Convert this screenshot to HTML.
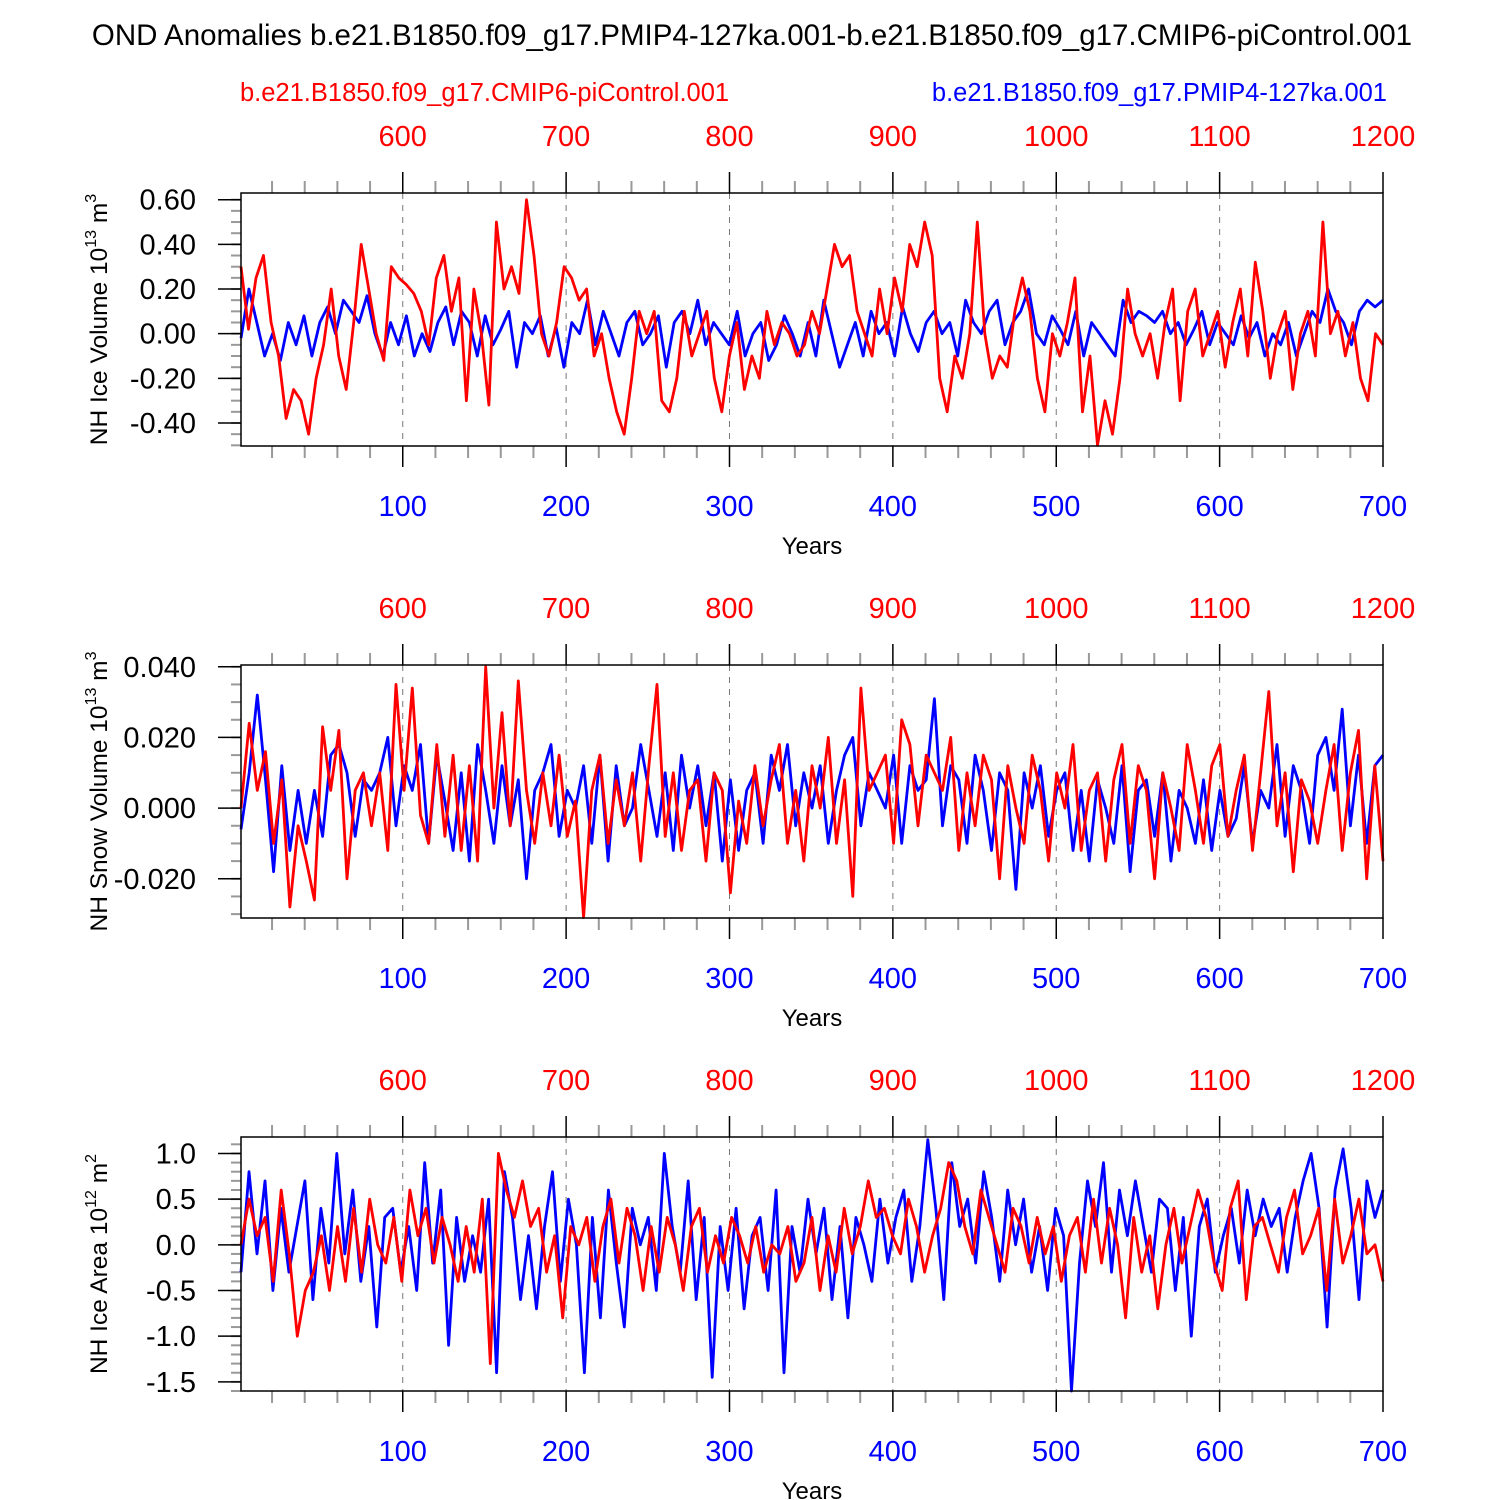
<!DOCTYPE html>
<html><head><meta charset="utf-8"><style>
body{margin:0;background:#fff}
svg{display:block;font-family:"Liberation Sans",Arial,sans-serif}
</style></head><body>
<svg id="chart" width="1500" height="1500" viewBox="0 0 1500 1500" xmlns="http://www.w3.org/2000/svg">
<text x="752" y="45" font-size="29.5" text-anchor="middle">OND Anomalies b.e21.B1850.f09_g17.PMIP4-127ka.001-b.e21.B1850.f09_g17.CMIP6-piControl.001</text>
<text x="240" y="101" font-size="25.5" fill="#ff0000">b.e21.B1850.f09_g17.CMIP6-piControl.001</text>
<text x="1387" y="101" font-size="25.5" fill="#0000ff" text-anchor="end">b.e21.B1850.f09_g17.PMIP4-127ka.001</text>
<g id="panels"></g>
</svg>
<script>
// Panel 1: NH ice volume (1e13 m3), sampled every 5 years
const iceVolCtrl=[0.30,0.02,0.25,0.35,0.05,-0.10,-0.38,-0.25,-0.30,-0.45,-0.20,-0.05,0.20,-0.10,-0.25,0.05,0.40,0.20,0.00,-0.12,0.30,0.25,0.22,0.18,0.10,-0.05,0.25,0.35,0.10,0.25,-0.30,0.20,0.00,-0.32,0.50,0.20,0.30,0.18,0.60,0.35,0.00,-0.10,0.05,0.30,0.25,0.15,0.20,-0.10,0.00,-0.20,-0.35,-0.45,-0.20,0.10,0.00,0.10,-0.30,-0.35,-0.20,0.10,-0.10,0.00,0.10,-0.20,-0.35,-0.10,0.05,-0.25,-0.10,-0.20,0.10,-0.05,0.05,0.00,-0.10,-0.05,0.10,0.00,0.20,0.40,0.30,0.35,0.10,0.00,-0.10,0.20,0.00,0.25,0.10,0.40,0.30,0.50,0.35,-0.20,-0.35,-0.10,-0.20,0.00,0.50,0.00,-0.20,-0.10,-0.15,0.10,0.25,0.10,-0.20,-0.35,0.00,-0.10,0.05,0.25,-0.35,-0.10,-0.50,-0.30,-0.45,-0.20,0.20,0.00,-0.10,0.00,-0.20,0.05,0.20,-0.30,0.10,0.20,-0.10,0.00,0.10,-0.15,0.05,0.20,-0.10,0.32,0.10,-0.20,0.00,0.10,-0.25,0.00,0.10,-0.10,0.50,0.00,0.10,-0.10,0.05,-0.20,-0.30,0.00,-0.05];
const iceVol127=[-0.02,0.20,0.05,-0.10,0.00,-0.12,0.05,-0.05,0.08,-0.10,0.05,0.12,0.00,0.15,0.10,0.05,0.17,0.00,-0.10,0.05,-0.05,0.08,-0.10,0.00,-0.08,0.05,0.12,-0.05,0.10,0.05,-0.10,0.08,-0.05,0.02,0.10,-0.15,0.05,0.00,0.08,-0.10,0.03,-0.15,0.05,0.00,0.15,-0.05,0.10,0.00,-0.10,0.05,0.10,-0.05,0.00,0.08,-0.15,0.05,0.10,0.00,0.15,-0.05,0.05,0.00,-0.05,0.10,-0.10,0.00,0.05,-0.12,-0.05,0.08,0.00,-0.10,0.05,-0.10,0.15,0.00,-0.15,-0.05,0.05,-0.10,0.10,0.00,0.05,-0.10,0.12,0.00,-0.08,0.05,0.10,0.00,0.05,-0.10,0.15,0.05,0.00,0.10,0.15,-0.05,0.05,0.10,0.20,0.00,-0.05,0.08,0.02,-0.05,0.10,-0.10,0.05,0.00,-0.05,-0.10,0.15,0.05,0.10,0.08,0.05,0.10,0.00,0.05,-0.05,0.02,0.10,-0.05,0.05,0.00,-0.05,0.08,-0.02,0.05,-0.10,0.00,-0.05,0.05,-0.10,0.00,0.10,0.05,0.20,0.10,0.05,-0.05,0.10,0.15,0.12,0.15];
// Panel 2: NH snow volume (1e13 m3)
const snowCtrl=[0.000,0.024,0.005,0.016,-0.010,0.008,-0.028,-0.005,-0.015,-0.026,0.023,0.005,0.022,-0.020,0.005,0.010,-0.005,0.010,-0.012,0.035,0.005,0.034,-0.002,-0.010,0.018,-0.008,0.015,-0.012,0.012,-0.015,0.040,0.000,0.027,-0.005,0.036,0.005,-0.010,0.010,-0.005,0.015,-0.008,0.002,-0.031,0.005,0.015,-0.010,0.008,-0.005,0.010,-0.015,0.012,0.035,-0.008,0.010,-0.012,0.005,0.008,-0.015,0.010,0.005,-0.024,0.002,-0.010,0.012,-0.005,0.008,0.018,-0.010,0.005,-0.015,0.012,0.000,0.020,-0.010,0.008,-0.025,0.034,0.005,0.010,0.015,-0.010,0.025,0.018,-0.005,0.015,0.010,0.005,0.020,-0.012,0.010,-0.005,0.015,0.008,-0.020,0.012,0.000,-0.010,0.015,0.005,-0.015,0.010,0.000,0.018,-0.012,0.005,0.010,-0.015,0.008,0.018,-0.010,0.012,0.005,-0.020,0.010,0.000,-0.012,0.018,0.005,-0.010,0.012,0.018,-0.008,0.005,0.015,-0.012,0.010,0.033,-0.005,0.010,-0.018,0.008,0.002,-0.010,0.005,0.018,-0.012,0.010,0.022,-0.020,0.012,-0.015];
const snow127=[-0.006,0.010,0.032,0.008,-0.018,0.012,-0.012,0.005,-0.010,0.005,-0.008,0.015,0.018,0.010,-0.008,0.008,0.005,0.010,0.020,-0.005,0.012,0.005,0.018,-0.010,0.015,0.002,-0.012,0.010,-0.015,0.018,0.005,-0.010,0.012,-0.005,0.008,-0.020,0.005,0.010,0.018,-0.008,0.005,0.000,0.012,-0.010,0.015,-0.015,0.012,-0.005,0.000,0.018,0.005,-0.008,0.010,-0.012,0.015,0.000,0.012,-0.005,0.010,-0.015,0.008,-0.012,0.005,0.010,-0.010,0.015,0.005,0.018,-0.005,0.010,0.000,0.012,-0.010,0.005,0.015,0.020,-0.005,0.010,0.005,0.000,0.015,-0.010,0.012,0.005,0.008,0.031,-0.005,0.012,0.008,-0.010,0.015,0.005,-0.012,0.010,0.005,-0.023,0.010,0.000,0.012,-0.008,0.005,0.010,-0.012,0.005,-0.015,0.008,0.000,-0.010,0.012,-0.018,0.005,0.008,-0.008,0.010,-0.015,0.005,0.000,-0.010,0.008,-0.012,0.005,-0.008,-0.003,0.012,-0.010,0.005,0.000,0.018,-0.008,0.012,0.005,-0.010,0.015,0.020,0.005,0.028,-0.005,0.015,-0.010,0.012,0.015];
// Panel 3: NH ice area (1e12 m2)
const areaCtrl=[0.00,0.50,0.10,0.30,-0.40,0.60,-0.10,-1.00,-0.50,-0.30,0.10,-0.50,0.20,-0.40,0.40,-0.30,0.50,0.00,-0.20,0.30,-0.40,0.60,0.10,0.40,-0.20,0.30,0.00,-0.40,0.20,-0.30,0.50,-1.30,1.00,0.60,0.30,0.70,0.20,0.40,-0.30,0.10,-0.80,0.20,0.00,0.30,-0.40,0.20,0.50,-0.20,0.40,0.10,-0.50,0.20,-0.30,0.30,0.00,-0.50,0.20,0.40,-0.30,0.10,-0.20,0.30,0.10,-0.20,0.20,-0.30,0.00,-0.10,0.20,-0.40,-0.20,0.30,-0.50,0.10,-0.30,0.40,-0.10,0.20,0.70,0.30,0.40,0.10,-0.10,0.50,0.20,-0.30,0.10,0.40,0.90,0.70,0.20,-0.10,0.60,0.30,0.00,-0.30,0.40,0.20,-0.20,0.30,-0.10,0.20,-0.40,0.10,0.30,-0.30,0.50,-0.20,0.40,0.00,-0.80,0.30,-0.30,0.10,-0.70,0.00,0.40,-0.20,0.20,0.60,0.30,-0.20,-0.50,0.40,0.70,-0.60,0.20,0.30,0.00,-0.30,0.30,0.60,-0.10,0.10,0.40,-0.50,0.50,-0.20,0.10,0.50,-0.10,0.00,-0.40];
const area127=[-0.30,0.80,-0.10,0.70,-0.50,0.40,-0.30,0.20,0.70,-0.60,0.40,-0.20,1.00,-0.10,0.60,-0.40,0.20,-0.90,0.30,0.40,-0.30,0.20,-0.50,0.90,-0.20,0.60,-1.10,0.30,-0.40,0.10,-0.30,0.50,-1.40,0.80,0.30,-0.60,0.10,-0.70,0.20,0.80,-0.40,0.50,0.00,-1.40,0.30,-0.80,0.60,-0.20,-0.90,0.40,0.00,0.30,-0.50,1.00,0.20,-0.30,0.70,-0.60,0.30,-1.45,0.20,-0.50,0.40,-0.70,0.10,0.30,-0.50,0.60,-1.40,0.20,-0.30,0.50,-0.10,0.40,-0.60,0.20,-0.80,0.30,0.00,-0.40,0.50,-0.20,0.30,0.60,-0.40,0.20,1.15,0.40,-0.60,0.90,0.20,0.50,-0.20,0.80,0.30,-0.40,0.60,0.00,0.50,-0.30,0.20,-0.50,0.40,0.10,-1.60,-0.20,0.70,0.20,0.90,-0.30,0.60,0.10,0.70,0.20,-0.30,0.50,0.40,-0.50,0.30,-1.00,0.20,0.50,-0.30,0.10,0.40,-0.20,0.60,0.10,0.50,0.20,0.40,-0.30,0.30,0.70,1.00,0.40,-0.90,0.60,1.05,0.40,-0.60,0.70,0.30,0.60];
const blueYearTicks=[100,200,300,400,500,600,700];
const redYearTicks=[600,700,800,900,1000,1100,1200];

const panels=[
 {top:193,bot:446,ymin:-0.503,ymax:0.63,ticks:[0.6,0.4,0.2,0,-0.2,-0.4],fmt:v=>v.toFixed(2),minor:0.05,red:iceVolCtrl,blue:iceVol127,title:"NH Ice Volume 10",sup:"13",unit:" m",sup2:"3",name:"ice-volume"},
 {top:665,bot:918,ymin:-0.0311,ymax:0.0405,ticks:[0.04,0.02,0,-0.02],fmt:v=>v.toFixed(3),minor:0.005,red:snowCtrl,blue:snow127,title:"NH Snow Volume 10",sup:"13",unit:" m",sup2:"3",name:"snow-volume"},
 {top:1137,bot:1391,ymin:-1.6,ymax:1.18,ticks:[1,0.5,0,-0.5,-1,-1.5],fmt:v=>v.toFixed(1),minor:0.1,red:areaCtrl,blue:area127,title:"NH Ice Area 10",sup:"12",unit:" m",sup2:"2",name:"ice-area"}
];
const L=241,R=1383;
const xs=yr=>L+(yr-1)*(R-L)/699;
const NS="http://www.w3.org/2000/svg";
const root=document.getElementById('panels');
function mk(t,a,p){const e=document.createElementNS(NS,t);for(const k in a)e.setAttribute(k,a[k]);(p||root).appendChild(e);return e;}
panels.forEach(P=>{
 const g=mk('g',{});
 
 
 const ys=v=>P.bot-(v-P.ymin)/(P.ymax-P.ymin)*(P.bot-P.top);
 blueYearTicks.forEach(y=>{const l=mk('line',{x1:xs(y),x2:xs(y),y1:P.top,y2:P.bot,stroke:'#777','stroke-dasharray':'6,6','stroke-width':1},g);
  });
 for(let y=20;y<=700;y+=20){const maj=y%100===0;const len=maj?21:12;
  mk('line',{x1:xs(y),x2:xs(y),y1:P.top,y2:P.top-len,stroke:maj?'#000':'#999','stroke-width':maj?1.5:2},g);
  mk('line',{x1:xs(y),x2:xs(y),y1:P.bot,y2:P.bot+len,stroke:maj?'#000':'#999','stroke-width':maj?1.5:2},g);}
 for(let v=Math.ceil(P.ymin/P.minor)*P.minor;v<=P.ymax+1e-9;v+=P.minor){mk('line',{x1:L,x2:L-10,y1:ys(v),y2:ys(v),stroke:'#999','stroke-width':2},g);}
 P.ticks.forEach(v=>{mk('line',{x1:L,x2:L-23,y1:ys(v),y2:ys(v),stroke:'#000','stroke-width':1.5},g);
  const t=mk('text',{x:196,y:ys(v)+10,'font-size':29,'text-anchor':'end'},g);t.textContent=P.fmt(v);
  });
 blueYearTicks.forEach(y=>{const t=mk('text',{x:xs(y),y:P.bot+70,'font-size':29,'text-anchor':'middle',fill:'#0000ff'},g);t.textContent=y;
  });
 redYearTicks.forEach((y,i)=>{const t=mk('text',{x:xs(blueYearTicks[i]),y:P.top-47,'font-size':29,'text-anchor':'middle',fill:'#ff0000'},g);t.textContent=y;
  });
 const xt=mk('text',{x:812,y:P.bot+108,'font-size':24,'text-anchor':'middle'},g);xt.textContent='Years';
 
 const cy=(P.top+P.bot)/2;
 const yt=mk('text',{x:0,y:0,'font-size':24.5,'text-anchor':'middle',transform:`translate(107,${cy}) rotate(-90)`},g);
 
 yt.innerHTML=`${P.title}<tspan dy="-11" font-size="16">${P.sup}</tspan><tspan dy="11">${P.unit}</tspan><tspan dy="-11" font-size="16">${P.sup2}</tspan>`;
 [[P.blue,'#0000ff','series-127ka'],[P.red,'#ff0000','series-picontrol']].forEach(([arr,c,nm])=>{
  const n=arr.length;
  const pts=arr.map((v,i)=>xs(1+i*699/(n-1)).toFixed(1)+','+ys(v).toFixed(1)).join(' ');
  const pl=mk('polyline',{points:pts,fill:'none',stroke:c,'stroke-width':2.8,'stroke-linejoin':'round'},g);
  });
 const fr=mk('rect',{x:L,y:P.top,width:R-L,height:P.bot-P.top,fill:'none',stroke:'#000','stroke-width':1.5},g);
 
});
</script>
</body></html>
